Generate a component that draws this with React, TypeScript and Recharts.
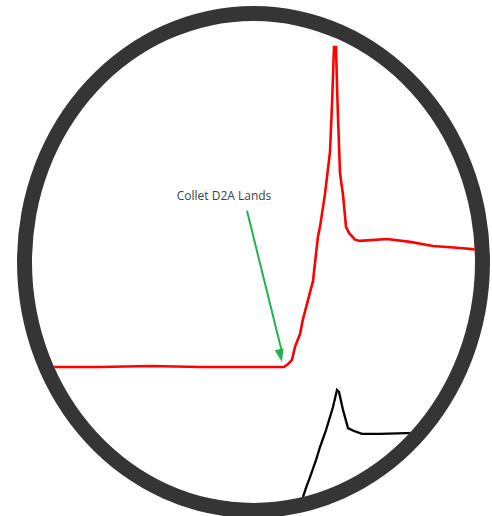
import { LineChart, Line, XAxis, YAxis, ReferenceLine, ReferenceDot } from "recharts";

// time in ms, force in arbitrary units (baseline 0, peak 100)
const redTime = [0, 4.8, 9.8, 14.8, 19.8, 23.2, 23.6, 24.0, 24.3, 24.8, 25.1, 25.6, 26.1, 26.6, 26.8, 27.3, 27.8, 28.0, 28.2, 28.4, 28.5, 28.6, 28.8, 29.1, 29.4, 29.7, 30.3, 30.8, 33.5, 35.8, 38.1, 40.8, 43.8];
const redForce = [0, 0, 0.3, 0, 0, 0, 0.9, 2.2, 6.3, 10.3, 15.0, 20.9, 26.9, 40.9, 43.8, 54.1, 67.2, 81.9, 100, 100, 88.1, 78.1, 60.6, 53.8, 43.8, 41.9, 39.8, 39.4, 40.0, 39.1, 37.8, 37.2, 36.3];

const blackTime = [24.8, 25.0, 25.4, 25.8, 26.4, 26.8, 27.4, 28.1, 28.5, 28.7, 29.1, 29.6, 30.2, 31.0, 32.8, 36.3, 37.8];
const blackForce = [-44.7, -41.6, -37.8, -34.4, -29.1, -25.0, -19.7, -12.5, -7.2, -7.8, -13.4, -19.1, -20.0, -20.9, -20.9, -20.6, -20.6];

const labelText = "Collet D2A Lands";
const labelPos = { t: 17.2, v: 53.4 };
const arrowFrom = { t: 19.5, v: 48.8 };
const arrowTo = { t: 23.0, v: 1.6 };

const red = redTime.map((t, i) => ({ t, v: redForce[i] }));
const black = blackTime.map((t, i) => ({ t, v: blackForce[i] }));

const GREEN = "#22b14c";

// eslint-disable-next-line @typescript-eslint/no-explicit-any
function ArrowHead({ cx, cy }: any) {
  if (cx == null || cy == null) return null;
  // direction of the arrow shaft in pixels
  const dx = 35, dy = 152;
  const len = Math.hypot(dx, dy);
  const ux = dx / len, uy = dy / len;
  const L = 13, W = 4.5;
  const bx = cx - ux * L, by = cy - uy * L;
  const pts = [
    [cx, cy],
    [bx - uy * W, by + ux * W],
    [bx + uy * W, by - ux * W],
  ];
  return <polygon points={pts.map((p) => p.join(",")).join(" ")} fill={GREEN} />;
}

export default function App() {
  return (
    <div style={{ position: "absolute", left: 0, top: 0, width: 492, height: 516, overflow: "hidden", background: "#fff" }}>
      <div
        style={{
          position: "absolute",
          left: 17,
          top: 6,
          width: 473,
          height: 512,
          boxSizing: "border-box",
          border: "15px solid #353535",
          borderRadius: "50%",
          overflow: "hidden",
        }}
      >
        <div style={{ position: "absolute", left: -32, top: -21 }}>
          <LineChart width={492} height={516} margin={{ top: 7, right: 10, bottom: 5, left: 52 }}>
            <XAxis type="number" dataKey="t" domain={[0, 43]} hide allowDataOverflow />
            <YAxis type="number" dataKey="v" domain={[-45, 112.5]} hide allowDataOverflow />
            <Line
              data={red}
              dataKey="v"
              type="linear"
              stroke="#ff0000"
              strokeWidth={2.6}
              dot={false}
              isAnimationActive={false}
            />
            <Line
              data={black}
              dataKey="v"
              type="linear"
              stroke="#000000"
              strokeWidth={2.3}
              dot={false}
              isAnimationActive={false}
            />
            <ReferenceLine
              segment={[
                { x: arrowFrom.t, y: arrowFrom.v },
                { x: arrowTo.t, y: arrowTo.v + 3 },
              ]}
              stroke={GREEN}
              strokeWidth={2}
              ifOverflow="visible"
            />
            <ReferenceDot x={arrowTo.t} y={arrowTo.v} r={0} shape={<ArrowHead />} ifOverflow="visible" />
            <ReferenceDot
              x={labelPos.t}
              y={labelPos.v}
              r={0}
              fill="none"
              stroke="none"
              ifOverflow="visible"
              label={{ value: labelText, position: "center", fill: "#404040", fontSize: 12, fontFamily: "Open Sans, sans-serif" }}
            />
          </LineChart>
        </div>
      </div>
    </div>
  );
}
